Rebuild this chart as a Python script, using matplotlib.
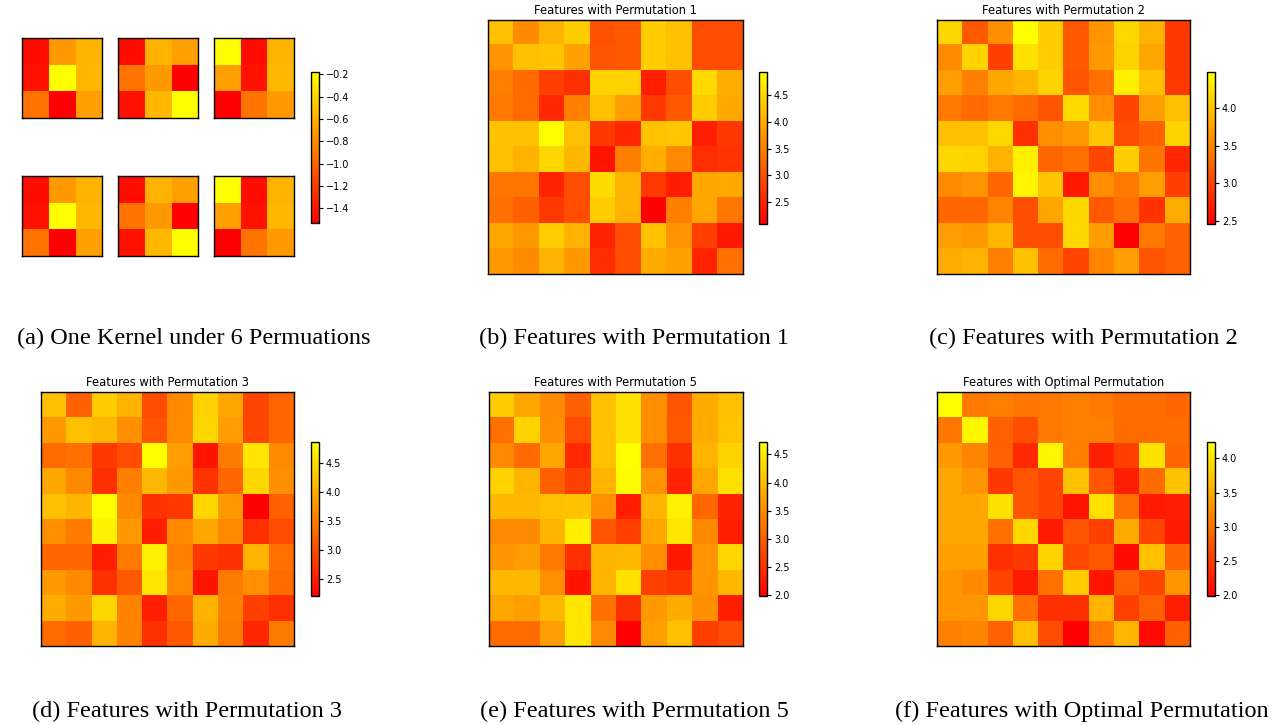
import numpy as np
import matplotlib
matplotlib.use("Agg")
import matplotlib.pyplot as plt

# 3x3 kernel under the permutations (top row and bottom row are the same)
kernel_1 = [[-1.47, -0.72, -0.58],
            [-1.44, -0.18, -0.56],
            [-0.92, -1.53, -0.69]]
kernel_2 = [[-1.47, -0.58, -0.69],
            [-0.92, -0.72, -1.53],
            [-1.44, -0.56, -0.18]]
kernel_3 = [[-0.18, -1.47, -0.58],
            [-0.69, -1.44, -0.56],
            [-1.53, -0.92, -0.72]]
kernel_ticks = [-1.4, -1.2, -1.0, -0.8, -0.6, -0.4, -0.2]

feat_perm1 = [[4.22, 3.65, 4.07, 4.36, 3.00, 3.09, 4.36, 4.22, 2.95, 2.95],
              [3.74, 4.22, 4.27, 3.88, 3.03, 3.09, 4.36, 4.22, 2.95, 2.95],
              [3.51, 3.28, 2.81, 2.64, 4.41, 4.41, 2.44, 2.95, 4.50, 4.02],
              [3.43, 3.28, 2.55, 3.51, 4.22, 3.85, 2.72, 3.09, 4.36, 3.96],
              [4.24, 4.22, 4.92, 4.22, 2.72, 2.52, 4.27, 4.30, 2.44, 2.72],
              [4.22, 4.07, 4.47, 4.13, 2.33, 3.51, 4.02, 3.62, 2.61, 2.69],
              [3.40, 3.40, 2.49, 2.95, 4.53, 4.07, 2.72, 2.44, 3.93, 3.96],
              [3.34, 3.17, 2.72, 2.95, 4.36, 4.07, 2.10, 3.51, 3.93, 3.40],
              [3.93, 3.79, 4.36, 4.07, 2.49, 2.95, 4.27, 3.74, 2.81, 2.38],
              [3.79, 3.65, 4.07, 3.79, 2.61, 2.95, 3.99, 3.88, 2.49, 3.34]]

feat_perm2 = [[4.16, 3.17, 3.59, 4.48, 4.08, 3.17, 3.63, 4.16, 3.87, 2.90],
              [3.55, 4.12, 2.97, 4.24, 4.08, 3.17, 3.67, 4.12, 3.77, 2.90],
              [3.71, 3.47, 3.77, 3.89, 4.12, 3.13, 3.35, 4.36, 3.98, 2.90],
              [3.43, 3.31, 3.43, 3.31, 3.13, 4.20, 3.59, 3.01, 3.71, 3.98],
              [3.98, 3.98, 4.16, 2.84, 3.59, 3.67, 4.02, 3.07, 3.23, 4.12],
              [4.16, 4.12, 3.87, 4.36, 3.27, 3.35, 3.01, 4.08, 3.39, 2.76],
              [3.55, 3.63, 3.27, 4.40, 4.02, 2.66, 3.59, 3.43, 3.71, 2.97],
              [3.27, 3.27, 3.51, 3.07, 3.77, 4.16, 3.17, 3.35, 2.86, 3.81],
              [3.71, 3.67, 3.91, 3.07, 3.07, 4.16, 3.71, 2.46, 3.43, 3.23],
              [3.81, 3.87, 3.47, 3.98, 3.31, 3.01, 3.51, 3.71, 3.13, 3.23]]

feat_perm3 = [[4.20, 3.21, 4.33, 4.06, 3.00, 3.64, 4.38, 3.93, 2.92, 3.26],
              [3.80, 4.20, 4.12, 3.69, 3.08, 3.64, 4.43, 3.85, 2.92, 3.26],
              [3.32, 3.37, 2.79, 3.00, 4.86, 3.85, 2.41, 3.48, 4.59, 3.64],
              [3.93, 3.64, 2.71, 3.53, 4.12, 3.80, 2.73, 3.26, 4.43, 3.69],
              [4.20, 4.09, 4.86, 3.64, 2.73, 2.79, 4.43, 3.80, 2.20, 3.21],
              [3.69, 3.48, 4.70, 3.80, 2.52, 3.64, 3.93, 3.64, 2.71, 3.00],
              [3.26, 3.26, 2.52, 3.48, 4.70, 3.53, 2.79, 2.71, 4.06, 3.37],
              [3.80, 3.64, 2.71, 3.13, 4.59, 3.64, 2.41, 3.48, 3.69, 3.32],
              [3.98, 3.80, 4.43, 3.58, 2.52, 3.26, 4.06, 3.53, 2.87, 2.71],
              [3.32, 3.21, 4.06, 3.58, 2.71, 3.13, 3.98, 3.48, 2.60, 3.48]]

feat_perm5 = [[4.17, 3.76, 3.46, 3.03, 4.04, 4.39, 3.52, 2.89, 3.82, 4.04],
              [3.19, 4.23, 3.52, 2.81, 4.04, 4.39, 3.52, 2.95, 3.82, 4.09],
              [3.46, 3.14, 3.76, 2.43, 4.04, 4.72, 3.19, 2.51, 3.90, 4.23],
              [4.23, 3.93, 3.03, 2.67, 3.90, 4.67, 3.57, 2.37, 3.76, 4.39],
              [3.96, 3.96, 4.04, 4.09, 3.52, 2.32, 3.93, 4.56, 3.08, 2.37],
              [3.46, 3.46, 3.93, 4.56, 2.89, 2.67, 3.76, 4.45, 3.46, 2.32],
              [3.57, 3.68, 3.30, 2.51, 3.93, 3.96, 3.52, 2.26, 3.57, 4.28],
              [3.96, 3.96, 3.52, 2.21, 3.93, 4.39, 2.67, 2.59, 3.57, 3.96],
              [3.76, 3.68, 3.96, 4.45, 3.19, 2.51, 3.63, 3.82, 3.52, 2.32],
              [3.14, 3.14, 3.68, 4.45, 3.46, 1.99, 3.68, 4.04, 2.67, 2.81]]

feat_optimal = [[4.24, 3.07, 3.12, 3.03, 3.07, 3.12, 3.07, 2.94, 2.94, 2.89],
                [3.03, 4.15, 2.85, 2.67, 3.07, 3.12, 3.12, 2.94, 2.94, 2.94],
                [3.34, 3.16, 2.85, 2.35, 4.15, 3.12, 2.26, 2.55, 3.97, 2.89],
                [3.45, 3.30, 2.49, 2.73, 2.60, 3.68, 2.73, 2.26, 2.94, 3.72],
                [3.45, 3.45, 3.97, 2.73, 2.60, 2.17, 3.97, 2.98, 2.22, 2.26],
                [3.45, 3.45, 2.98, 3.88, 2.22, 2.73, 2.55, 3.50, 2.60, 2.22],
                [3.39, 3.39, 2.42, 2.49, 3.84, 2.64, 2.78, 2.08, 3.68, 2.89],
                [3.30, 3.21, 2.60, 2.22, 2.98, 3.79, 2.17, 2.85, 2.60, 3.30],
                [3.30, 3.30, 3.88, 2.98, 2.42, 2.42, 3.57, 2.55, 2.85, 2.26],
                [3.12, 3.16, 2.85, 3.68, 2.67, 1.99, 3.07, 3.59, 2.08, 2.85]]

titles = ["Features with Permutation 1", "Features with Permutation 2",
          "Features with Permutation 3", "Features with Permutation 5",
          "Features with Optimal Permutation"]
ticks_1 = [2.5, 3.0, 3.5, 4.0, 4.5]
ticks_2 = [2.5, 3.0, 3.5, 4.0]
ticks_3 = [2.5, 3.0, 3.5, 4.0, 4.5]
ticks_5 = [2.0, 2.5, 3.0, 3.5, 4.0, 4.5]
ticks_opt = [2.0, 2.5, 3.0, 3.5, 4.0]
captions = ["(a) One Kernel under 6 Permuations",
            "(b) Features with Permutation 1",
            "(c) Features with Permutation 2",
            "(d) Features with Permutation 3",
            "(e) Features with Permutation 5",
            "(f) Features with Optimal Permutation"]

W, H = 1282, 725
fig = plt.figure(figsize=(W / 100, H / 100), dpi=100)


def px_axes(x0, y0, x1, y1):
    # axes from pixel box (top-left origin)
    return fig.add_axes([x0 / W, 1 - y1 / H, (x1 - x0) / W, (y1 - y0) / H])


def style_cbar(cb, ticks):
    cb.set_ticks(ticks)
    cb.ax.tick_params(labelsize=7, length=3, width=0.8, pad=2)
    cb.outline.set_linewidth(1.0)


# (a) kernel panel
kernels = [kernel_1, kernel_2, kernel_3, kernel_1, kernel_2, kernel_3]
kmin = min(np.min(k) for k in kernels)
kmax = max(np.max(k) for k in kernels)
im = None
for idx, k in enumerate(kernels):
    col = idx % 3
    row = idx // 3
    x0 = 22 + col * 96
    y0 = 38 + row * 138
    ax = px_axes(x0, y0, x0 + 80, y0 + 80)
    im = ax.imshow(np.array(k), cmap="autumn", vmin=kmin, vmax=kmax,
                   interpolation="nearest", aspect="auto")
    ax.set_xticks([])
    ax.set_yticks([])
    for s in ax.spines.values():
        s.set_linewidth(1.0)
cax = px_axes(311, 72, 319, 223)
cb = fig.colorbar(im, cax=cax)
style_cbar(cb, kernel_ticks)

# feature panels
feats = [feat_perm1, feat_perm2, feat_perm3, feat_perm5, feat_optimal]
tick_sets = [ticks_1, ticks_2, ticks_3, ticks_5, ticks_opt]
img_boxes = [(488, 20, 743, 274), (937, 20, 1190, 274),
             (41, 392, 294, 646), (489, 392, 743, 646), (937, 392, 1190, 646)]
cbar_boxes = [(759, 72, 767, 224), (1207, 72, 1215, 224),
              (311, 442, 319, 596), (759, 442, 767, 596), (1207, 442, 1215, 596)]

for data, title, tks, ib, cbb in zip(feats, titles, tick_sets, img_boxes, cbar_boxes):
    ax = px_axes(*ib)
    im = ax.imshow(np.array(data), cmap="autumn", interpolation="nearest", aspect="auto")
    ax.set_xticks([])
    ax.set_yticks([])
    ax.set_title(title, fontsize=8.3, pad=4)
    for s in ax.spines.values():
        s.set_linewidth(1.0)
    cax = px_axes(*cbb)
    cb = fig.colorbar(im, cax=cax)
    style_cbar(cb, tks)

# captions
cap_pos = [(194, 338), (634, 338), (1083, 338), (187, 711), (634, 711), (1082, 711)]
for text, (cx, cy) in zip(captions, cap_pos):
    fig.text(cx / W, 1 - cy / H, text, ha="center", va="center",
             fontsize=17.5, family="Liberation Serif")

fig.savefig("out.png", dpi=100)
